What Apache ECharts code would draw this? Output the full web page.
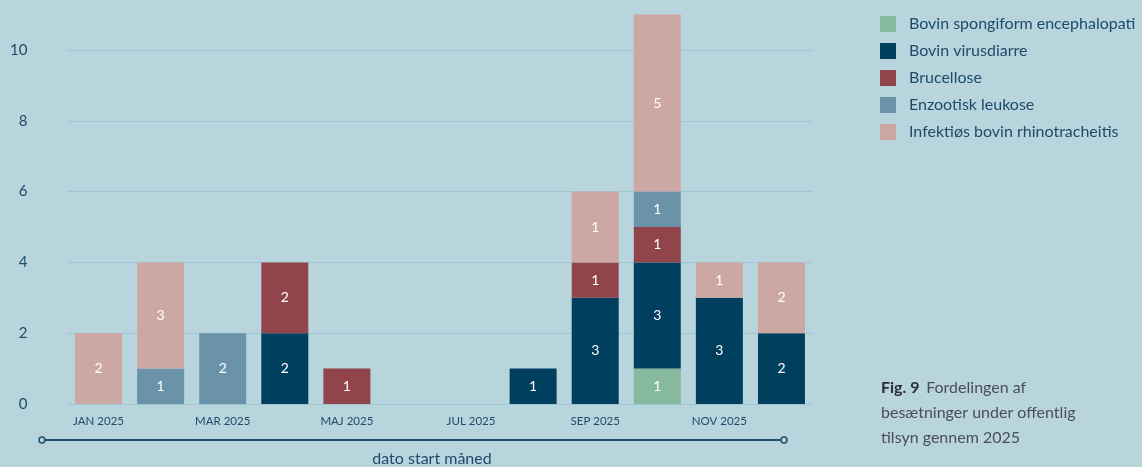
<!DOCTYPE html>
<html><head><meta charset="utf-8">
<script src="https://cdn.jsdelivr.net/npm/echarts@6/dist/echarts.min.js"></script>
<style>html,body{margin:0;padding:0;background:#b8d5dd;}#c{width:1142px;height:467px;}</style>
</head><body><div id="c"></div>
<script>
const categories = ['JAN 2025','FEB 2025','MAR 2025','APR 2025','MAJ 2025','JUN 2025','JUL 2025','AUG 2025','SEP 2025','OKT 2025','NOV 2025','DEC 2025'];
const seriesNames = ['Bovin spongiform encephalopati','Bovin virusdiarre','Brucellose','Enzootisk leukose','Infektiøs bovin rhinotracheitis'];
const bse        = [0,0,0,0,0,0,0,0,0,1,0,0];
const bvd        = [0,0,0,2,0,0,0,1,3,3,3,2];
const brucellose = [0,0,0,2,1,0,0,0,1,1,0,0];
const enzootisk  = [0,1,2,0,0,0,0,0,0,1,0,0];
// segment heights as drawn in the picture
const ibr        = [2,3,0,0,0,0,0,0,2,5,1,2];
// numbers printed on the Infektiøs segments in the picture
const ibrLabels  = [2,3,0,0,0,0,0,0,1,5,1,2];
const colors = ['#86b99d','#003f5e','#91454b','#6a93a9','#cca7a4'];
const allData = [bse,bvd,brucellose,enzootisk,ibr];
const allLabels = [bse,bvd,brucellose,enzootisk,ibrLabels];
const FONT = 'Lato';
const textCol = '#1d4b6a';

const chart = echarts.init(document.getElementById('c'), null, {renderer:'canvas'});
chart.setOption({
  backgroundColor: '#b8d5dd',
  animation: false,
  textStyle: {fontFamily: FONT},
  grid: {left: 67.5, right: 329.5, top: 14.6, bottom: 63, containLabel: false},
  legend: {
    orient: 'vertical', left: 875, top: 11,
    itemWidth: 16, itemHeight: 16, itemGap: 11,
    icon: 'rect',
    textStyle: {color: textCol, fontSize: 16, fontFamily: FONT, padding: [0,0,0,8]},
    data: seriesNames
  },
  xAxis: {
    type: 'category', data: categories,
    axisLine: {show: false}, axisTick: {show: false},
    axisLabel: {interval: 1, color: textCol, fontSize: 11.5, margin: 11, fontFamily: FONT}
  },
  yAxis: {
    type: 'value', min: 0, max: 11, interval: 2,
    axisLine: {show: false}, axisTick: {show: false},
    axisLabel: {showMaxLabel: false, color: textCol, fontSize: 15, margin: 40, fontFamily: FONT, align: 'right'},
    splitLine: {showMaxLine: false, lineStyle: {color: '#9fc6d3', width: 1}}
  },
  series: seriesNames.map((name, i) => ({
    name, type: 'bar', stack: 'total', barWidth: 47,
    itemStyle: {color: colors[i]},
    data: allData[i].map(v => v === 0 ? null : v),
    label: {show: true, position: 'inside', color: '#ffffff', fontSize: 14, fontFamily: FONT,
      formatter: p => (p.value ? String(allLabels[i][p.dataIndex]) : '')}
  })),
  graphic: [
    {type: 'line', shape: {x1: 45, y1: 440, x2: 781, y2: 440}, style: {stroke: '#1f4f6b', lineWidth: 2}},
    {type: 'circle', shape: {cx: 42, cy: 440, r: 3}, style: {fill: '#b8d5dd', stroke: '#1f4f6b', lineWidth: 1.5}},
    {type: 'circle', shape: {cx: 784, cy: 440, r: 3}, style: {fill: '#b8d5dd', stroke: '#1f4f6b', lineWidth: 1.5}},
    {type: 'text', x: 432, y: 459, style: {text: 'dato start måned', fill: textCol, font: '16px Lato', textAlign: 'center', textVerticalAlign: 'middle'}},
    {type: 'text', x: 881, y: 375, style: {
      text: '{b|Fig. 9}  {n|Fordelingen af}\n{n|besætninger under offentlig}\n{n|tilsyn gennem 2025}',
      rich: {
        b: {font: 'bold 16px Lato', fill: '#2a2f36', lineHeight: 25},
        n: {font: '16px Lato', fill: '#4a4f55', lineHeight: 25}
      }
    }}
  ]
});
</script></body></html>
